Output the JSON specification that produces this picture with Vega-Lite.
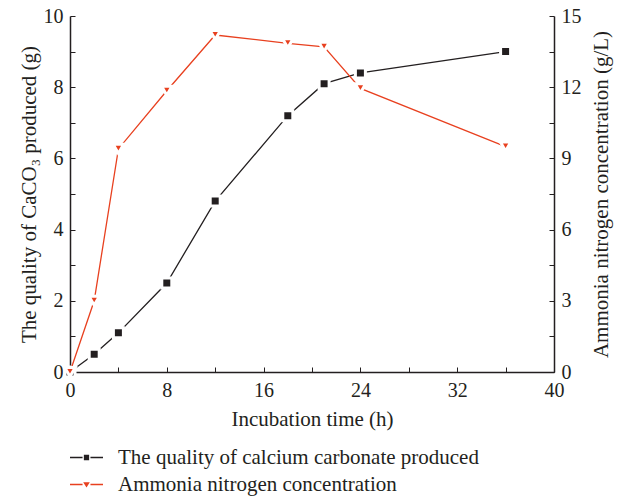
{
  "$schema": "https://vega.github.io/schema/vega-lite/v6.json",
  "width": 484,
  "height": 356,
  "autosize": {"type": "none"},
  "padding": {"left": 70, "top": 16, "right": 68, "bottom": 124},
  "background": "white",
  "config": {
    "view": {"stroke": null},
    "font": "Liberation Serif",
    "axis": {
      "labelFont": "Liberation Serif",
      "titleFont": "Liberation Serif",
      "labelFontSize": 20,
      "titleFontSize": 21,
      "labelColor": "#231f20",
      "titleColor": "#231f20",
      "titleFontWeight": "normal",
      "domainColor": "#231f20",
      "domainWidth": 1.5,
      "tickColor": "#231f20",
      "tickWidth": 1,
      "tickSize": -5,
      "labelFlush": false,
      "grid": false
    },
    "legend": {
      "labelFont": "Liberation Serif",
      "labelFontSize": 21,
      "labelColor": "#231f20",
      "labelLimit": 0
    }
  },
  "data": {
    "values": [
      {"s": "The quality of calcium carbonate produced", "t": 0, "v": 0},
      {"s": "The quality of calcium carbonate produced", "t": 2, "v": 0.5},
      {"s": "The quality of calcium carbonate produced", "t": 4, "v": 1.1},
      {"s": "The quality of calcium carbonate produced", "t": 8, "v": 2.5},
      {"s": "The quality of calcium carbonate produced", "t": 12, "v": 4.8},
      {"s": "The quality of calcium carbonate produced", "t": 18, "v": 7.2},
      {"s": "The quality of calcium carbonate produced", "t": 21, "v": 8.1},
      {"s": "The quality of calcium carbonate produced", "t": 24, "v": 8.4},
      {"s": "The quality of calcium carbonate produced", "t": 36, "v": 9.0},
      {"s": "Ammonia nitrogen concentration", "t": 0, "v": 0},
      {"s": "Ammonia nitrogen concentration", "t": 2, "v": 3.0},
      {"s": "Ammonia nitrogen concentration", "t": 4, "v": 9.4},
      {"s": "Ammonia nitrogen concentration", "t": 8, "v": 11.85},
      {"s": "Ammonia nitrogen concentration", "t": 12, "v": 14.2},
      {"s": "Ammonia nitrogen concentration", "t": 18, "v": 13.85},
      {"s": "Ammonia nitrogen concentration", "t": 21, "v": 13.7},
      {"s": "Ammonia nitrogen concentration", "t": 24, "v": 11.95},
      {"s": "Ammonia nitrogen concentration", "t": 36, "v": 9.5}
    ]
  },
  "encoding": {
    "x": {
      "field": "t",
      "type": "quantitative",
      "scale": {"domain": [0, 40], "nice": false},
      "axis": {
        "values": [0, 4, 8, 12, 16, 20, 24, 28, 32, 36, 40],
        "labelExpr": "datum.value % 8 == 0 ? datum.label : ''",
        "title": "Incubation time (h)",
        "labelPadding": 13,
        "titlePadding": 8,
        "encode": {"ticks": {"update": {"y2": {"signal": "datum.value % 8 == 0 ? -8 : -4"}}}}
      }
    }
  },
  "layer": [
    {
      "transform": [{"filter": "datum.s == 'The quality of calcium carbonate produced'"}],
      "encoding": {
        "y": {
          "field": "v",
          "type": "quantitative",
          "scale": {"domain": [0, 10], "nice": false},
          "axis": {
            "orient": "left",
            "values": [0, 1, 2, 3, 4, 5, 6, 7, 8, 9, 10],
            "labelExpr": "datum.value % 2 == 0 ? datum.label : ''",
            "title": "The quality of CaCO₃ produced (g)",
            "labelPadding": 12,
            "titlePadding": 4,
            "encode": {"ticks": {"update": {"x2": {"signal": "datum.value % 2 == 0 ? 8 : 4"}}}}
          }
        }
      },
      "layer": [
        {"mark": {"type": "line", "color": "#231f20", "strokeWidth": 1.3}},
        {
          "mark": {"type": "point", "filled": true, "opacity": 1, "size": 100, "shape": "square", "color": "#231f20", "stroke": "white", "strokeWidth": 3, "strokeOpacity": 1}
        }
      ]
    },
    {
      "transform": [{"filter": "datum.s == 'Ammonia nitrogen concentration'"}],
      "encoding": {
        "y": {
          "field": "v",
          "type": "quantitative",
          "scale": {"domain": [0, 15], "nice": false},
          "axis": {
            "orient": "right",
            "values": [0, 1.5, 3, 4.5, 6, 7.5, 9, 10.5, 12, 13.5, 15],
            "labelExpr": "datum.value % 3 == 0 ? datum.label : ''",
            "title": "Ammonia nitrogen concentration (g/L)",
            "titleAngle": 270,
            "titleBaseline": "bottom",
            "labelPadding": 12,
            "titlePadding": 30,
            "encode": {"ticks": {"update": {"x2": {"signal": "datum.value % 3 == 0 ? -8 : -4"}}}}
          }
        }
      },
      "layer": [
        {"mark": {"type": "line", "color": "#e8401f", "strokeWidth": 1.3}},
        {
          "mark": {"type": "point", "filled": true, "opacity": 1, "size": 110, "shape": "triangle-down", "color": "#e8401f", "stroke": "white", "strokeWidth": 3, "strokeOpacity": 1}
        }
      ]
    },
    {
      "transform": [{"filter": "false"}],
      "mark": {"type": "point", "filled": true, "opacity": 1},
      "encoding": {
        "color": {
          "field": "s", "type": "nominal",
          "scale": {"domain": ["The quality of calcium carbonate produced", "Ammonia nitrogen concentration"], "range": ["#231f20", "#e8401f"]},
          "legend": {
            "title": null,
            "orient": "none",
            "legendX": 0,
            "legendY": 425,
            "direction": "vertical",
            "symbolSize": 1089,
            "symbolStrokeWidth": 0,
            "labelOffset": 15,
            "rowPadding": -6
          }
        },
        "shape": {
          "field": "s", "type": "nominal",
          "scale": {"domain": ["The quality of calcium carbonate produced", "Ammonia nitrogen concentration"], "range": ["M-1,-0.04H-0.24V0.04H-1Z M0.24,-0.04H1V0.04H0.24Z M-0.16,-0.16H0.16V0.16H-0.16Z", "M-1,-0.04H-0.24V0.04H-1Z M0.24,-0.04H1V0.04H0.24Z M-0.2,-0.14H0.2L0,0.18Z"]}
        }
      }
    }
  ],
  "resolve": {"scale": {"y": "independent"}}
}
